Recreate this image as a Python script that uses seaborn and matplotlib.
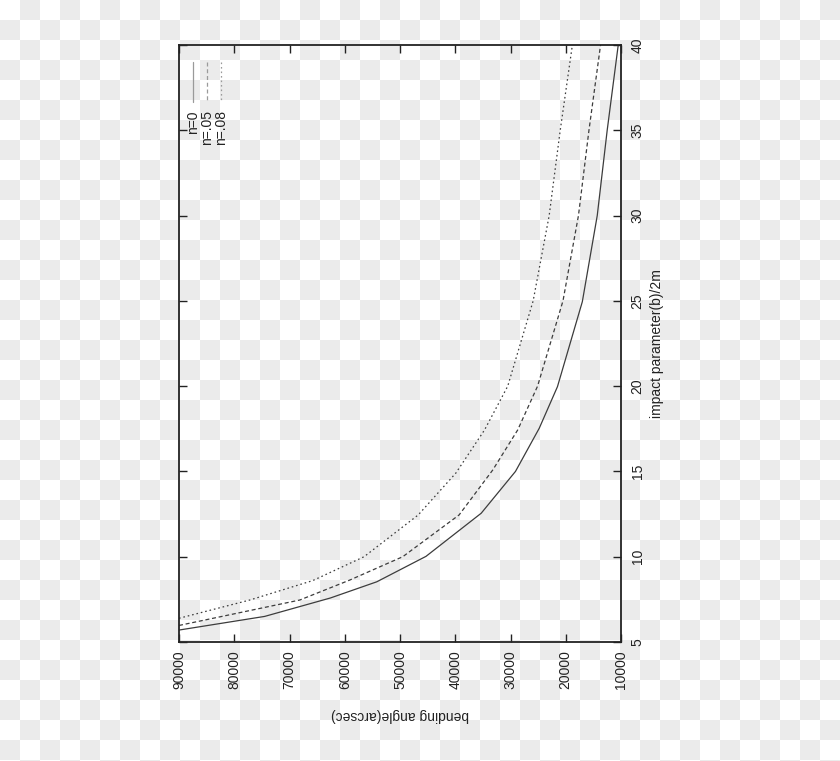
import numpy as np
import pandas as pd
import matplotlib
matplotlib.use('Agg')
import matplotlib.pyplot as plt
import seaborn as sns

# ---------------------------------------------------------
# 数据：冲击参数 b/2m 与偏折角 (arcsec)，三个 n 取值
# ---------------------------------------------------------
b_n0 = [5.70, 6.50, 7.58, 8.53, 10.02, 12.55, 15.0, 17.53, 19.97, 24.95, 30.0, 35.0, 40.0]
angle_n0 = [90000, 74500, 62600, 54200, 45300, 35300, 29100, 24800, 21500, 17000, 14300, 12500, 10500]

b_n05 = [5.97, 7.46, 8.63, 10.0, 12.45, 15.09, 17.43, 20.0, 25.0, 30.0, 35.0, 40.0]
angle_n05 = [90000, 68150, 59100, 49500, 39300, 33200, 28700, 25100, 20500, 17700, 15800, 13700]

b_n08 = [6.39, 7.46, 8.6, 10.0, 12.45, 14.9, 17.43, 20.0, 25.0, 30.0, 35.0, 40.0]
angle_n08 = [90000, 77200, 65800, 56500, 46700, 39900, 34700, 30500, 25900, 23000, 21000, 18800]

labels = ['n=0', 'n=.05', 'n=.08']
x_ticks = [5, 10, 15, 20, 25, 30, 35, 40]
y_ticks = [90000, 80000, 70000, 60000, 50000, 40000, 30000, 20000, 10000]

df = pd.concat([
    pd.DataFrame({'b': b_n0, 'angle': angle_n0, 'n': labels[0]}),
    pd.DataFrame({'b': b_n05, 'angle': angle_n05, 'n': labels[1]}),
    pd.DataFrame({'b': b_n08, 'angle': angle_n08, 'n': labels[2]}),
], ignore_index=True)

# ---------------------------------------------------------
# 画布（整幅图旋转 90°，背景为透明棋盘格）
# ---------------------------------------------------------
sns.set_style('white')
plt.rcParams['font.family'] = ['Liberation Sans', 'DejaVu Sans']

W, H = 840, 761
fig = plt.figure(figsize=(W / 100, H / 100), dpi=100)
fig.patch.set_alpha(0)
yy, xx = np.mgrid[0:H, 0:W]
checker = np.where(((xx // 20) + (yy // 20)) % 2 == 1, 0.925, 1.0)
fig.figimage(np.dstack([checker] * 3), xo=0, yo=0, origin='upper', zorder=-10)

ax = fig.add_axes([179 / W, 1 - 642 / H, 442 / W, 597 / H])
ax.set_zorder(5)
ax.patch.set_alpha(0)

line_color = '#3c3c3c'
dash_map = {labels[0]: '', labels[1]: (3.2, 2.2), labels[2]: (1.3, 2.3)}
sns.lineplot(data=df, x='angle', y='b', style='n', dashes=dash_map,
             color=line_color, linewidth=0.9, sort=False, estimator=None,
             legend=False, ax=ax)

ax.set_xlim(90000, 10000)
ax.set_ylim(5, 40)
ax.set_xticks(y_ticks)
ax.set_yticks(x_ticks)
ax.set_xticklabels([str(v) for v in y_ticks], rotation=90, va='top', ha='center')
ax.set_yticklabels([str(v) for v in x_ticks], rotation=90, va='center', ha='left')
ax.yaxis.tick_right()
ax.tick_params(axis='both', direction='in', length=6, width=1, color='#222222',
               labelsize=10, labelcolor='#222222', top=True, bottom=True,
               left=True, right=True)
ax.tick_params(axis='x', pad=6)
ax.tick_params(axis='y', pad=7)

for s in ax.spines.values():
    s.set_visible(True)
    s.set_color('#222222')
    s.set_linewidth(1.3)

ax.set_xlabel('bending angle(arcsec)', fontsize=10, color='#222222', rotation=180)
ax.set_ylabel('impact parameter(b)/2m', fontsize=10, color='#222222', rotation=90)
ax.xaxis.set_label_coords(0.5, (642 - 715) / 597)
ax.xaxis.label.set_va('center')
ax.yaxis.set_label_position('right')
ax.yaxis.set_label_coords((657 - 179) / 442, 0.5)
ax.yaxis.label.set_va('center')
ax.yaxis.label.set_ha('center')

# 旋转后的图例（左上角）
key_x = [0.031, 0.063, 0.095]
for lab, kx in zip(labels, key_x):
    ls_dash = dash_map[lab]
    ln, = ax.plot([kx, kx], [0.9715, 0.9045], transform=ax.transAxes,
                  color='#9a9a9a', linewidth=0.9)
    if ls_dash:
        ln.set_dashes(ls_dash)
    ax.text(kx, 0.891, lab, transform=ax.transAxes, rotation=90,
            ha='center', va='top', fontsize=10, color='#222222')

fig.savefig('out.png', dpi=100)
